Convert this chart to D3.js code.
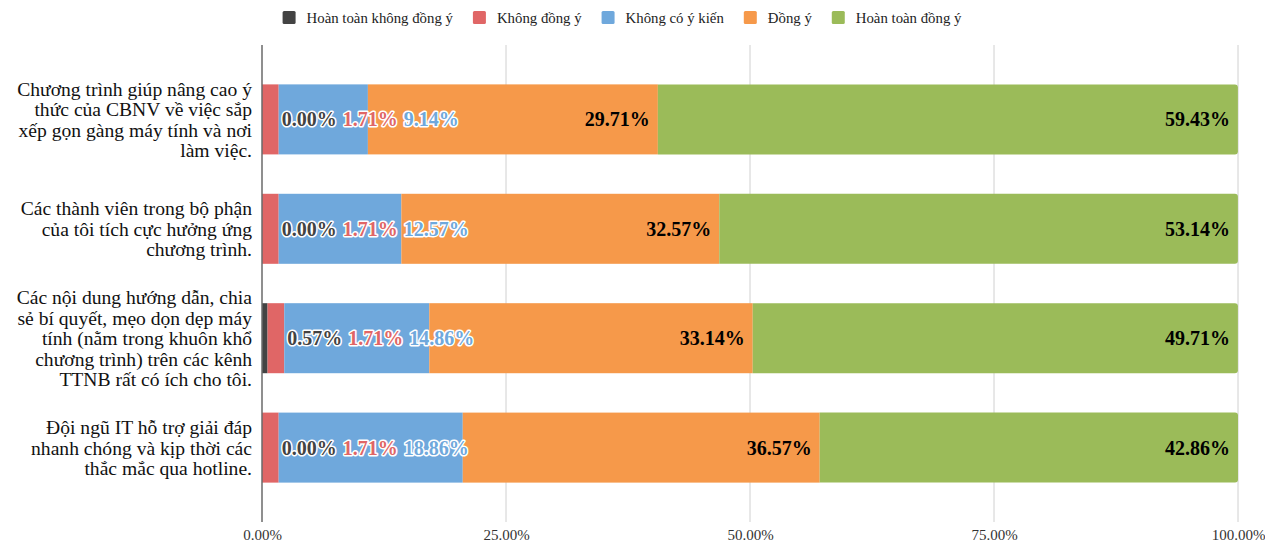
<!DOCTYPE html>
<html>
<head>
<meta charset="utf-8">
<script src="https://cdn.jsdelivr.net/npm/d3@7"></script>
<style>
  body { margin: 0; background: #fff; }
  svg { display: block; font-family: "Liberation Serif", "Times New Roman", serif; }
</style>
</head>
<body>
<div id="chart"></div>
<script>
// survey answers, percent per statement
const seriesNames = ["Hoàn toàn không đồng ý", "Không đồng ý", "Không có ý kiến", "Đồng ý", "Hoàn toàn đồng ý"];
const seriesColors = ["#434343", "#e06666", "#6fa8dc", "#f6994a", "#9bbb59"];
const categories = [
    "Chương trình giúp nâng cao ý\nthức của CBNV về việc sắp\nxếp gọn gàng máy tính và nơi\nlàm việc.",
    "Các thành viên trong bộ phận\ncủa tôi tích cực hưởng ứng\nchương trình.",
    "Các nội dung hướng dẫn, chia\nsẻ bí quyết, mẹo dọn dẹp máy\ntính (nằm trong khuôn khổ\nchương trình) trên các kênh\nTTNB rất có ích cho tôi.",
    "Đội ngũ IT hỗ trợ giải đáp\nnhanh chóng và kịp thời các\nthắc mắc qua hotline."
];
const hoanToanKhongDongY = [0.00, 0.00, 0.57, 0.00];
const khongDongY = [1.71, 1.71, 1.71, 1.71];
const khongCoYKien = [9.14, 12.57, 14.86, 18.86];
const dongY = [29.71, 32.57, 33.14, 36.57];
const hoanToanDongY = [59.43, 53.14, 49.71, 42.86];
const xTicks = [0, 25, 50, 75, 100];

const seriesValues = [hoanToanKhongDongY, khongDongY, khongCoYKien, dongY, hoanToanDongY];

const W = 1265, H = 543;
const margin = {top: 45, right: 27, bottom: 21, left: 262};

const table = categories.map((c, i) => {
    let row = {cat: c};
    seriesNames.forEach((s, j) => { row[s] = seriesValues[j][i]; });
    return row;
});
const stacked = d3.stack().keys(seriesNames)(table);

const svg = d3.select("#chart").append("svg")
    .attr("width", W)
    .attr("height", H);

const x = d3.scaleLinear()
    .domain([0, 100])
    .range([margin.left, W - margin.right]);
const y = d3.scaleBand()
    .domain(categories)
    .range([margin.top, H - margin.bottom])
    .padding(0.36);

// grid
svg.append("g")
    .selectAll("line")
    .data(xTicks.slice(1))
    .join("line")
    .attr("x1", d => x(d)).attr("x2", d => x(d))
    .attr("y1", margin.top).attr("y2", H - margin.bottom)
    .attr("stroke", "#d0d0d0")
    .attr("stroke-width", 1);

// x axis labels
const xAxis = svg.append("g")
    .attr("transform", `translate(0, ${H - margin.bottom})`)
    .call(d3.axisBottom(x).tickValues(xTicks).tickSize(0).tickPadding(7)
        .tickFormat(d => d3.format(".2f")(d) + "%"));
xAxis.select(".domain").remove();
xAxis.attr("font-family", null);
xAxis.selectAll("text")
    .attr("font-size", 15)
    .attr("fill", "#333");

// bars
const r = 3;
stacked.forEach((layer, j) => {
    const g = svg.append("g").attr("fill", seriesColors[j]);
    if (j < stacked.length - 1) {
        g.selectAll("rect")
            .data(layer)
            .join("rect")
            .attr("x", d => x(d[0]))
            .attr("y", d => y(d.data.cat))
            .attr("width", d => x(d[1]) - x(d[0]))
            .attr("height", y.bandwidth());
    } else {
        g.selectAll("path")
            .data(layer)
            .join("path")
            .attr("d", d => {
                const x0 = x(d[0]), x1 = x(d[1]), y0 = y(d.data.cat), h = y.bandwidth();
                return `M${x0},${y0}H${x1 - r}Q${x1},${y0} ${x1},${y0 + r}V${y0 + h - r}Q${x1},${y0 + h} ${x1 - r},${y0 + h}H${x0}Z`;
            });
    }
});

// zero line
svg.append("line")
    .attr("x1", x(0)).attr("x2", x(0))
    .attr("y1", margin.top).attr("y2", H - margin.bottom)
    .attr("stroke", "#6a6a6a")
    .attr("stroke-width", 1.5);

// value labels
const fmt = d3.format(".2f");
categories.forEach((c, i) => {
    const cy = y(c) + y.bandwidth() / 2 + 7;
    let cursor = x(stacked[1][i][1]) + 3;
    stacked.forEach((layer, j) => {
        const d = layer[i];
        const label = fmt(d[1] - d[0] + 1e-9) + "%";
        const t = svg.append("text")
            .attr("y", cy)
            .attr("font-size", 20)
            .attr("font-weight", "bold")
            .text(label);
        if (j < 3) {
            t.attr("x", cursor)
                .attr("fill", seriesColors[j])
                .attr("stroke", "#fff")
                .attr("stroke-width", 3)
                .attr("stroke-linejoin", "round")
                .attr("paint-order", "stroke");
            cursor += t.node().getComputedTextLength() + 6;
        } else {
            t.attr("x", x(d[1]) - 8)
                .attr("text-anchor", "end")
                .attr("fill", "#000");
        }
    });
});

// category labels
categories.forEach(c => {
    const lines = c.split("\n");
    const lh = 20.5;
    const cy = y(c) + y.bandwidth() / 2;
    const t = svg.append("text")
        .attr("text-anchor", "end")
        .attr("font-size", 19.6)
        .attr("fill", "#111");
    lines.forEach((ln, k) => {
        t.append("tspan")
            .attr("x", margin.left - 10)
            .attr("y", cy + (k - (lines.length - 1) / 2) * lh + 7)
            .text(ln);
    });
});

// legend
const legend = svg.append("g");
let lx = 0;
seriesNames.forEach((s, j) => {
    const item = legend.append("g").attr("transform", `translate(${lx}, 0)`);
    item.append("rect")
        .attr("x", 0).attr("y", 11)
        .attr("width", 13).attr("height", 13)
        .attr("rx", 1.5)
        .attr("fill", seriesColors[j]);
    const t = item.append("text")
        .attr("x", 24).attr("y", 22.5)
        .attr("font-size", 14.8)
        .attr("fill", "#222")
        .text(s);
    lx += 24 + t.node().getComputedTextLength() + 20;
});
const legendW = lx - 20;
legend.attr("transform", `translate(${622 - legendW / 2}, 0)`);
</script>
</body>
</html>
